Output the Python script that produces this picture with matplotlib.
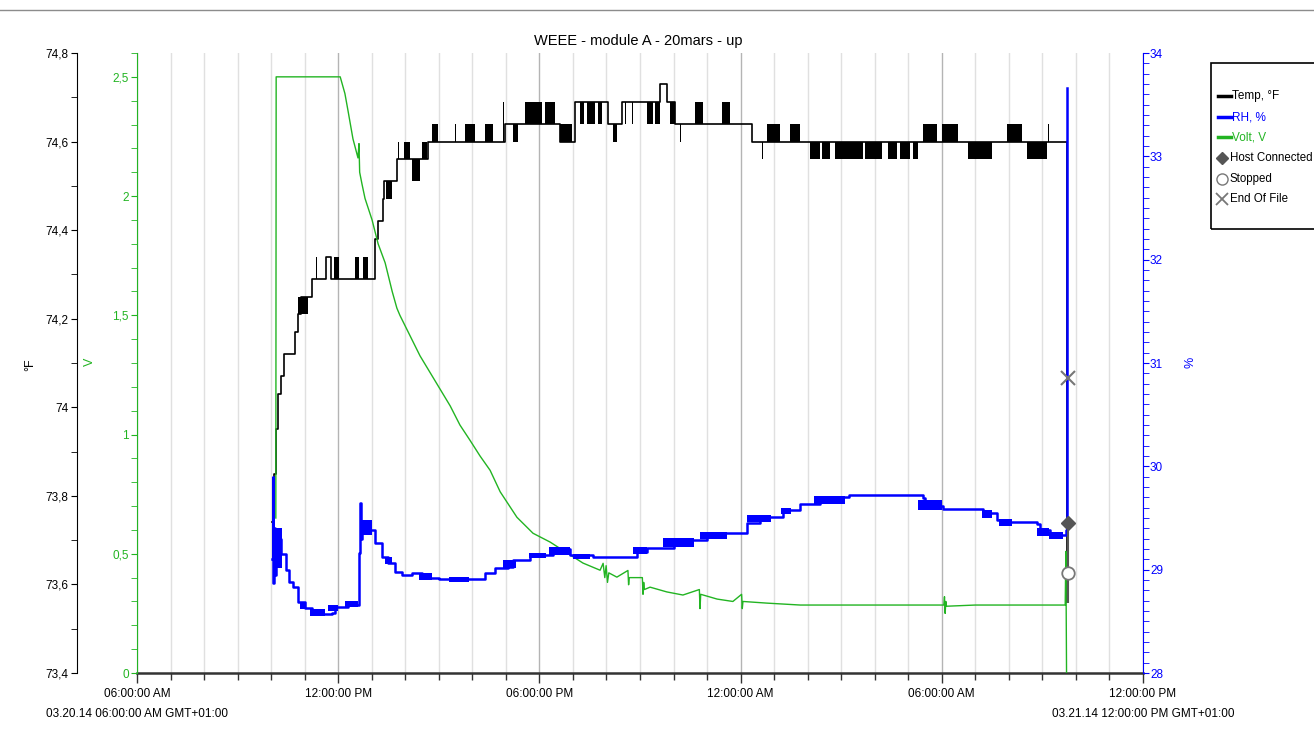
"""
WEEE - module A - 20mars - up
logger export: temperature (F), relative humidity (%) and battery volt (V)
x axis is hours since 03.20.14 06:00:00 AM
"""
import matplotlib
matplotlib.use("Agg")
import matplotlib.pyplot as plt
from matplotlib.ticker import MultipleLocator, FuncFormatter
from matplotlib.lines import Line2D
from matplotlib.patches import Rectangle

plt.rcParams['font.family'] = ['Liberation Sans', 'DejaVu Sans']

GREEN = '#22b422'
BLUE = '#0000ff'

# temperature, step series (hours, F)
temp_t = [4.03, 4.09, 4.15, 4.21, 4.30, 4.38, 4.71, 4.80, 4.89, 5.22, 5.64, 5.79,
          7.10, 7.19, 7.34, 7.37, 7.75, 8.68, 10.98, 12.62, 13.06, 14.05, 14.46,
          15.60, 15.81, 16.05, 18.34, 27.68, 27.72]
temp_v = [73.74, 73.85, 73.95, 74.03, 74.07, 74.12, 74.17, 74.21, 74.25, 74.29, 74.34, 74.29,
          74.38, 74.42, 74.47, 74.51, 74.56, 74.60, 74.64, 74.60, 74.69, 74.64, 74.69,
          74.73, 74.69, 74.64, 74.60, 74.60, 73.56]

# sections where the reading flickers between two levels (start h, end h, low, high)
temp_flicker = [
    (4.80, 5.10, 74.21, 74.25), (5.34, 5.37, 74.29, 74.34), (5.88, 6.02, 74.29, 74.34),
    (6.50, 6.62, 74.29, 74.34), (6.74, 6.89, 74.29, 74.34), (7.43, 7.61, 74.47, 74.51),
    (7.78, 7.81, 74.56, 74.60), (7.96, 8.14, 74.56, 74.60), (8.20, 8.44, 74.51, 74.56),
    (8.50, 8.65, 74.56, 74.60), (8.80, 8.98, 74.60, 74.64), (9.48, 9.51, 74.60, 74.64),
    (9.78, 10.08, 74.60, 74.64), (10.38, 10.62, 74.60, 74.64), (10.90, 10.94, 74.60, 74.69),
    (11.21, 11.36, 74.60, 74.64), (11.57, 12.08, 74.64, 74.69), (12.17, 12.47, 74.64, 74.69),
    (12.62, 12.97, 74.60, 74.64), (13.21, 13.33, 74.64, 74.69), (13.42, 13.66, 74.64, 74.69),
    (13.75, 13.87, 74.64, 74.69), (14.20, 14.32, 74.60, 74.64), (14.55, 14.58, 74.64, 74.69),
    (14.76, 14.79, 74.64, 74.69), (15.21, 15.39, 74.64, 74.69), (15.45, 15.60, 74.64, 74.69),
    (15.90, 16.05, 74.64, 74.69), (16.19, 16.22, 74.60, 74.64), (16.64, 16.88, 74.64, 74.69),
    (17.45, 17.69, 74.64, 74.69), (18.64, 18.67, 74.56, 74.60), (18.79, 19.18, 74.60, 74.64),
    (19.47, 19.77, 74.60, 74.64), (20.07, 20.37, 74.56, 74.60), (20.43, 20.67, 74.56, 74.60),
    (20.82, 21.65, 74.56, 74.60), (21.71, 22.22, 74.56, 74.60), (22.40, 22.67, 74.56, 74.60),
    (22.76, 23.05, 74.56, 74.60), (23.14, 23.29, 74.56, 74.60), (23.44, 23.86, 74.60, 74.64),
    (24.01, 24.49, 74.60, 74.64), (24.78, 25.50, 74.56, 74.60), (25.95, 26.39, 74.60, 74.64),
    (26.54, 27.14, 74.56, 74.60), (27.17, 27.20, 74.60, 74.64),
]

# relative humidity (hours, %)
rh_t = [4.03, 4.05, 4.07, 4.09, 4.12, 4.15, 4.19, 4.24, 4.30, 4.44, 4.54, 4.65, 4.80,
        5.00, 5.22, 5.50, 5.81, 5.90, 6.30, 6.61, 6.63, 6.65, 6.68, 6.71, 6.89, 7.10,
        7.31, 7.49, 7.70, 7.90, 8.20, 8.50, 9.00, 10.29, 10.38, 10.68, 11.07, 11.21,
        11.72, 12.41, 12.92, 13.60, 14.80, 14.91, 15.21, 15.80, 16.00, 16.79, 17.00,
        17.77, 18.19, 18.58, 19.17, 19.26, 19.56, 19.77, 20.28, 20.37, 21.06, 21.23,
        23.26, 23.44, 23.50, 23.95, 24.04, 25.14, 25.23, 25.65, 26.03, 26.85, 26.94,
        27.23, 27.68, 27.70, 27.74]
rh_v = [29.10, 29.90, 28.87, 29.40, 28.95, 29.35, 29.05, 29.30, 29.15, 29.00, 28.88, 28.83, 28.69,
        28.63, 28.58, 28.57, 28.58, 28.64, 28.66, 28.68, 29.16, 29.65, 29.30, 29.45, 29.38, 29.26,
        29.12, 29.06, 28.98, 28.95, 28.97, 28.92, 28.91, 28.91, 28.97, 29.02, 29.03, 29.09,
        29.14, 29.20, 29.14, 29.12, 29.12, 29.17, 29.21, 29.21, 29.29, 29.29, 29.35,
        29.35, 29.45, 29.51, 29.51, 29.58, 29.58, 29.64, 29.64, 29.68, 29.70, 29.72,
        29.72, 29.69, 29.64, 29.62, 29.59, 29.59, 29.55, 29.48, 29.46, 29.44, 29.38,
        29.34, 29.34, 29.38, 33.66]

# humidity flicker (start h, end h, low, high)
rh_flicker = [
    (4.05, 4.32, 29.02, 29.40), (4.85, 5.05, 28.62, 28.69), (5.15, 5.60, 28.55, 28.62),
    (5.70, 6.00, 28.60, 28.66), (6.20, 6.60, 28.64, 28.70), (6.66, 7.00, 29.34, 29.48),
    (7.40, 7.60, 29.05, 29.12), (8.40, 8.80, 28.90, 28.97), (9.30, 9.90, 28.88, 28.93),
    (10.90, 11.30, 29.02, 29.09), (11.70, 12.20, 29.11, 29.16), (12.30, 12.90, 29.14, 29.22),
    (13.00, 13.50, 29.10, 29.15), (14.80, 15.20, 29.15, 29.22), (15.70, 16.60, 29.22, 29.31),
    (16.80, 17.60, 29.30, 29.36), (18.20, 18.90, 29.46, 29.53), (19.20, 19.50, 29.54, 29.60),
    (20.20, 21.10, 29.64, 29.71), (23.30, 24.00, 29.58, 29.67), (25.20, 25.50, 29.50, 29.58),
    (25.70, 26.10, 29.42, 29.49), (26.85, 27.20, 29.33, 29.40), (27.20, 27.60, 29.30, 29.36),
]

# battery volt (hours, V)
volt_t = [4.14, 4.15, 6.06, 6.20, 6.29, 6.44, 6.59, 6.60, 6.62, 6.64, 6.71, 6.80, 7.01,
          7.19, 7.40, 7.61, 7.75, 7.84, 8.14, 8.44, 8.74, 9.04, 9.34, 9.63, 9.93, 10.23,
          10.53, 10.83, 11.33, 11.81, 12.32, 12.83, 13.30, 13.81, 13.90, 13.95, 13.99,
          14.03, 14.07, 14.31, 14.64, 14.66, 14.68, 15.07, 15.09, 15.11, 15.13, 15.30,
          15.80, 16.28, 16.77, 16.79, 16.81, 17.30, 17.77, 18.03, 18.05, 18.07, 18.79,
          19.78, 24.06, 24.08, 24.10, 24.12, 24.14, 25.00, 27.68, 27.70, 27.72]
volt_v = [0.65, 2.50, 2.50, 2.43, 2.36, 2.24, 2.16, 2.18, 2.22, 2.10, 2.05, 1.99, 1.90,
          1.80, 1.72, 1.60, 1.53, 1.50, 1.415, 1.33, 1.26, 1.19, 1.12, 1.04, 0.976, 0.91,
          0.85, 0.76, 0.653, 0.586, 0.549, 0.503, 0.461, 0.431, 0.46, 0.40, 0.45,
          0.38, 0.42, 0.402, 0.43, 0.37, 0.40, 0.40, 0.33, 0.38, 0.35, 0.36,
          0.34, 0.327, 0.35, 0.27, 0.33, 0.31, 0.30, 0.33, 0.27, 0.30, 0.293,
          0.285, 0.285, 0.32, 0.25, 0.30, 0.28, 0.285, 0.285, 0.51, 0.0]

# logger events, placed on the RH scale
event_names = ['Host Connected', 'Stopped', 'End Of File']
event_t = [27.75, 27.75, 27.75]
event_v = [29.45, 28.97, 30.85]

x_ticks = [0, 6, 12, 18, 24, 30]
x_labels = ['06:00:00 AM', '12:00:00 PM', '06:00:00 PM', '12:00:00 AM', '06:00:00 AM', '12:00:00 PM']


def comma(v, pos):
    return ('%g' % round(v, 2)).replace('.', ',')


W, H = 1314, 731
fig = plt.figure(figsize=(W / 100, H / 100), dpi=100)
ax_t = fig.add_axes([137 / W, 1 - 673 / H, (1143 - 137) / W, (673 - 53) / H])
ax_v = ax_t.twinx()
ax_rh = ax_t.twinx()

# x axis
ax_t.set_xlim(0, 30)
ax_t.set_xticks(x_ticks)
ax_t.set_xticklabels(x_labels, fontsize=8.5)
ax_t.xaxis.set_minor_locator(MultipleLocator(1))
ax_t.grid(True, axis='x', which='major', color='#b4b4b4', lw=1)
ax_t.grid(True, axis='x', which='minor', color='#e0e0e0', lw=1)
ax_t.tick_params(axis='x', which='major', length=7, width=1, color='#333333', pad=4)
ax_t.tick_params(axis='x', which='minor', length=5, width=1, color='#333333')
ax_t.spines['bottom'].set_color('#333333')
ax_t.spines['bottom'].set_linewidth(1.8)
for a in (ax_t, ax_v, ax_rh):
    a.spines['top'].set_visible(False)

# temperature axis, pushed 60 px to the left
ax_t.set_ylim(73.4, 74.8)
ax_t.spines['left'].set_position(('outward', 43.2))
ax_t.spines['right'].set_visible(False)
ax_t.yaxis.set_major_locator(MultipleLocator(0.2))
ax_t.yaxis.set_minor_locator(MultipleLocator(0.1))
ax_t.yaxis.set_major_formatter(FuncFormatter(comma))
ax_t.tick_params(axis='y', which='both', length=4, labelsize=8.5, pad=2)

ax_t.step(temp_t, temp_v, where='post', color='black', lw=1.2, zorder=3)
for t0, t1, lo, hi in temp_flicker:
    ax_t.fill_between([t0, t1], lo, hi, color='black', lw=0, zorder=3)

# volt axis at the plot edge
ax_v.set_ylim(0, 2.6)
ax_v.yaxis.tick_left()
ax_v.spines['left'].set_visible(True)
ax_v.spines['left'].set_color(GREEN)
ax_v.spines['right'].set_visible(False)
ax_v.spines['bottom'].set_visible(False)
ax_v.yaxis.set_major_locator(MultipleLocator(0.5))
ax_v.yaxis.set_minor_locator(MultipleLocator(0.1))
ax_v.yaxis.set_major_formatter(FuncFormatter(comma))
ax_v.tick_params(axis='y', which='both', colors=GREEN, length=4, labelsize=8.5, pad=2)
ax_v.plot(volt_t, volt_v, color=GREEN, lw=1)

# humidity axis on the right
ax_rh.set_ylim(28, 34)
ax_rh.spines['right'].set_color(BLUE)
ax_rh.spines['left'].set_visible(False)
ax_rh.spines['bottom'].set_visible(False)
ax_rh.yaxis.set_major_locator(MultipleLocator(1))
ax_rh.yaxis.set_minor_locator(MultipleLocator(0.1))
ax_rh.tick_params(axis='y', which='both', colors=BLUE, length=4, labelsize=8.5, pad=1)
ax_rh.step(rh_t, rh_v, where='post', color=BLUE, lw=1.8)
for t0, t1, lo, hi in rh_flicker:
    ax_rh.fill_between([t0, t1], lo, hi, color=BLUE, lw=0)

# event markers
ax_rh.vlines(event_t[0], 28.68, event_v[0], color='#555555', lw=1.5)
ax_rh.plot(event_t[0], event_v[0], 'D', ms=7, color='#555555')
ax_rh.plot(event_t[1], event_v[1], 'o', ms=9, mfc='white', mec='#777777', mew=1.3)
ax_rh.plot(event_t[2], event_v[2], 'x', ms=10, color='#777777', mew=1.5)

# axis labels, title, date lines
fig.text(30 / W, 1 - 365 / H, '°F', rotation=90, ha='center', va='center', fontsize=9)
fig.text(90 / W, 1 - 362 / H, 'V', rotation=90, ha='center', va='center', fontsize=9, color=GREEN)
fig.text(1190 / W, 1 - 362 / H, '%', rotation=90, ha='center', va='center', fontsize=9, color=BLUE)
fig.text(638 / W, 1 - 41 / H, 'WEEE - module A - 20mars - up', ha='center', va='center', fontsize=10.5)
fig.text(137 / W, 1 - 714 / H, '03.20.14 06:00:00 AM GMT+01:00', ha='center', va='center', fontsize=8.5)
fig.text(1143 / W, 1 - 714 / H, '03.21.14 12:00:00 PM GMT+01:00', ha='center', va='center', fontsize=8.5)

# window border on top
fig.add_artist(Line2D([0, 1], [1 - 10 / H, 1 - 10 / H], color='#8c8c8c', lw=1))

# legend box drawn by hand
fig.add_artist(Rectangle((1211 / W, 1 - 229 / H), 200 / W, 166 / H, fill=False,
                         ec='black', lw=1.2, transform=fig.transFigure))
leg_rows = [96, 117, 137, 158, 179, 199]
leg_line = [('Temp, °F', 'black'), ('RH, %', BLUE), ('Volt, V', GREEN)]
for (name, col), y in zip(leg_line, leg_rows[:3]):
    fig.add_artist(Line2D([1218 / W, 1231 / W], [1 - y / H, 1 - y / H], color=col, lw=2.5))
    fig.text(1232 / W, 1 - y / H, name, color=col, va='center', fontsize=8.5)
leg_marks = [dict(marker='D', ms=6, color='#555555', mfc='#555555'),
             dict(marker='o', ms=8, color='#777777', mfc='white'),
             dict(marker='x', ms=8, color='#777777', mew=1.3)]
for name, m, y in zip(event_names, leg_marks, leg_rows[3:]):
    fig.add_artist(Line2D([1222 / W], [1 - y / H], ls='none', **m))
    fig.text(1230 / W, 1 - y / H, name, va='center', fontsize=8.3)

fig.savefig('out.png', dpi=100)
